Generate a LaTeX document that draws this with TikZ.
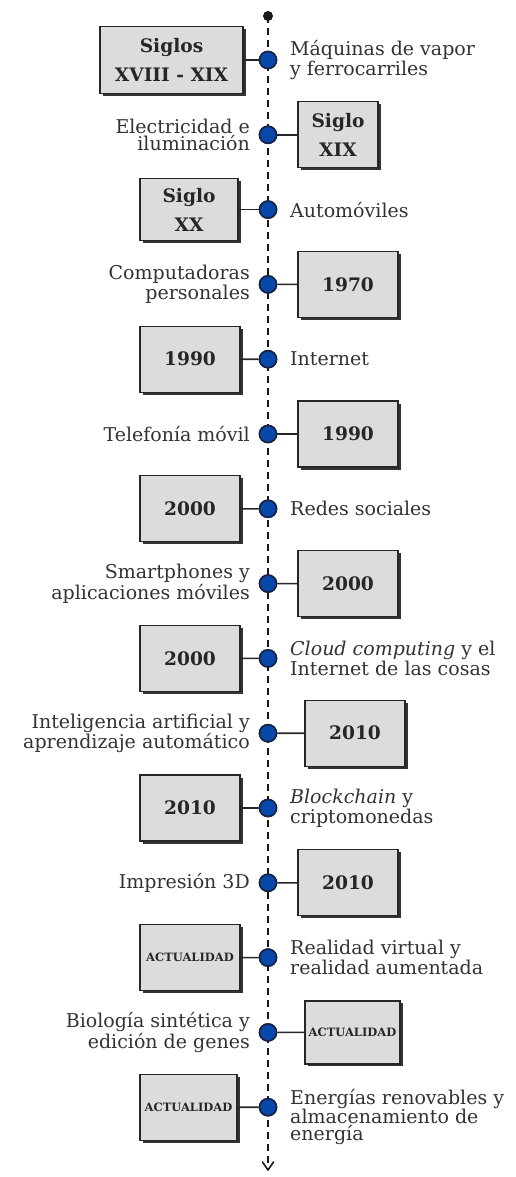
\documentclass[tikz,border=0pt]{standalone}
\usepackage{fontspec}
\setmainfont{DejaVu Serif}
\usetikzlibrary{shadows,arrows.meta}
\definecolor{dotblue}{RGB}{8,72,170}
\definecolor{dotrim}{RGB}{20,35,70}
\definecolor{boxgray}{RGB}{220,220,220}
\definecolor{ink}{RGB}{50,50,50}
\tikzset{
  yearbox/.style={draw=black!85, line width=1.3pt, fill=boxgray,
    minimum width=100pt, minimum height=66pt, inner sep=2pt, align=center,
    text=black!85, font=\bfseries\fontsize{18.6}{29}\selectfont,
    drop shadow={opacity=1, fill=black!80, shadow xshift=2.5pt, shadow yshift=-2.5pt}},
  nowbox/.style={yearbox, font=\bfseries\fontsize{11.5}{14}\selectfont},
  event/.style={circle, draw=dotrim, line width=1.6pt, fill=dotblue,
    minimum size=17pt, inner sep=0pt},
  label/.style={inner sep=0pt, text=ink, font=\fontsize{19}{17}\selectfont},
  lefttext/.style={label, anchor=east, align=right},
  righttext/.style={label, anchor=west, align=left},
  conn/.style={line width=1.6pt, draw=black!85},
  axis/.style={line width=2.2pt, draw=black!90, dash pattern=on 7pt off 5pt}
}
\begin{document}
\begin{tikzpicture}[x=1pt,y=-1pt]
\useasboundingbox (0,0) rectangle (515,1177);
% central time axis
\coordinate (top) at (268,16);
\coordinate (bot) at (268,1170);
\draw[axis] (top) -- (bot);
\draw[line width=1.6pt, black!90, line cap=round, line join=round]
  (bot) ++(-5.5,-8) -- (bot) -- ++(5.5,-8);
\fill[black!90] (top) circle (5pt);

% events: circles on the axis
\foreach \i in {1,...,15}{
  \node[event] (e\i) at (268,{60+74.8*(\i-1)}) {};
}

% dates
\node[yearbox, minimum width=143pt, minimum height=67pt] (b1) at (171.5,60) {Siglos\\XVIII - XIX};
\node[yearbox, minimum width=80pt]  (b2) at (338,134.8) {Siglo\\XIX};
\node[yearbox, minimum width=98pt, minimum height=62pt] (b3) at (189,209.6) {Siglo\\XX};
\node[yearbox] (b4) at (348,284.4) {1970};
\node[yearbox] (b5) at (190,359.2) {1990};
\node[yearbox] (b6) at (348,434) {1990};
\node[yearbox] (b7) at (190,508.8) {2000};
\node[yearbox] (b8) at (348,583.6) {2000};
\node[yearbox] (b9) at (190,658.4) {2000};
\node[yearbox] (b10) at (355,733.2) {2010};
\node[yearbox] (b11) at (190,808) {2010};
\node[yearbox] (b12) at (348,882.8) {2010};
\node[nowbox]  (b13) at (190,957.6) {ACTUALIDAD};
\node[nowbox, minimum width=95pt, minimum height=63pt] (b14) at (352.5,1032.4) {ACTUALIDAD};
\node[nowbox, minimum width=97pt] (b15) at (188.5,1107.2) {ACTUALIDAD};

% links from the axis to the dates
\foreach \i in {1,...,15}{
  \draw[conn] (e\i) -- (b\i);
}
% circles drawn again over the links
\foreach \i in {1,...,15}{
  \node[event] at (e\i) {};
}

% descriptions
\node[righttext] (t1) at (290,60) {Máquinas de vapor\\y ferrocarriles};
\node[lefttext]  (t2) at (250,134.8) {Electricidad e\\iluminación};
\node[righttext] (t3) at (290,209.6) {Automóviles};
\node[lefttext]  (t4) at (250,284.4) {Computadoras\\personales};
\node[righttext] (t5) at (290,359.2) {Internet};
\node[lefttext]  (t6) at (250,434) {Telefonía móvil};
\node[righttext] (t7) at (290,508.8) {Redes sociales};
\node[lefttext]  (t8) at (250,583.6) {Smartphones y\\aplicaciones móviles};
\node[righttext] (t9) at (290,658.4) {\textit{Cloud computing} y el\\Internet de las cosas};
\node[lefttext]  (t10) at (250,733.2) {Inteligencia artificial y\\aprendizaje automático};
\node[righttext] (t11) at (290,808) {\textit{Blockchain} y\\criptomonedas};
\node[lefttext]  (t12) at (250,882.8) {Impresión 3D};
\node[righttext] (t13) at (290,957.6) {Realidad virtual y\\realidad aumentada};
\node[lefttext]  (t14) at (250,1032.4) {Biología sintética y\\edición de genes};
\node[righttext] (t15) at (290,1117) {Energías renovables y\\almacenamiento de\\energía};
\end{tikzpicture}
\end{document}
